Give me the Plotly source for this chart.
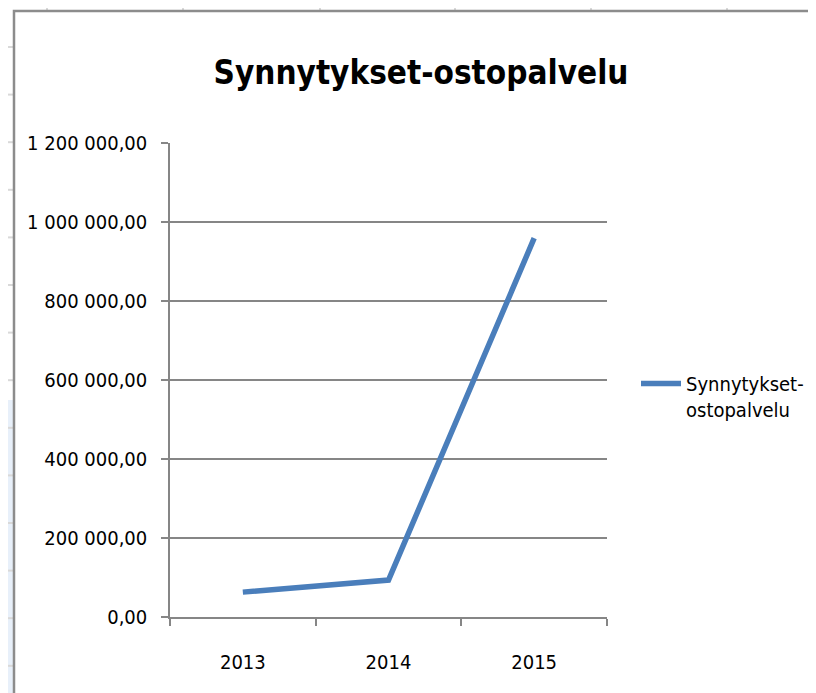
import plotly.graph_objects as go

years = ["2013", "2014", "2015"]
values = [63000, 93500, 959000]
series_name = "Synnytykset-ostopalvelu"
y_ticks = [0, 200000, 400000, 600000, 800000, 1000000, 1200000]

OFF = 8  # page body margin
W, H = 816 - OFF, 693 - OFF
L, R, T, B = 170, 607, 143, 617  # page pixel coords of plot area

def px(x):
    return (x - L) / (R - L)

def py(y):
    return (B - y) / (B - T)

FONT = "DejaVu Sans Condensed"

fig = go.Figure()
fig.add_trace(go.Scatter(
    x=years, y=values, mode="lines",
    name="Synnytykset-<br>ostopalvelu",
    line=dict(color="#4a7ebb", width=5.5),
))

shapes = []
shapes.append(dict(type="rect", xref="paper", yref="paper", x0=px(0), x1=px(13), y0=py(700), y1=py(400),
                   fillcolor="#e8f0fa", line=dict(width=0), layer="below"))
for gx in [47, 183, 320, 455, 591, 727]:
    shapes.append(dict(type="line", xref="paper", yref="paper", x0=px(gx), x1=px(gx), y0=py(0), y1=py(11),
                       line=dict(color="#d9d9d9", width=2), layer="below"))
k = 0
while 47 + 47.6 * k < 693:
    gy = 47 + 47.6 * k
    shapes.append(dict(type="line", xref="paper", yref="paper", x0=px(0), x1=px(13), y0=py(gy), y1=py(gy),
                       line=dict(color="#d9d9d9", width=2), layer="below"))
    k += 1
shapes.append(dict(type="rect", xref="paper", yref="paper", x0=px(14), x1=px(830), y0=py(710), y1=py(11),
                   fillcolor="white", line=dict(color="#8c8c8c", width=2.5), layer="below"))

fig.update_layout(
    width=W, height=H,
    margin=dict(l=L - OFF, r=816 - R, t=T - OFF, b=693 - B, autoexpand=False),
    paper_bgcolor="white", plot_bgcolor="rgba(0,0,0,0)",
    separators=", ",
    font=dict(family=FONT, size=20, color="black"),
    title=dict(text="<b>Synnytykset-ostopalvelu</b>", x=(421 - OFF) / W, xanchor="center",
               y=1 - (72 - OFF) / H, yanchor="middle", font=dict(family=FONT, size=33, color="black")),
    shapes=shapes,
    showlegend=True,
    legend=dict(x=px(636), xanchor="left", y=py(364), yanchor="top", valign="top",
                font=dict(family=FONT, size=20), bgcolor="rgba(0,0,0,0)", itemwidth=40),
    xaxis=dict(type="category", tickson="boundaries", ticks="outside", ticklen=7, tickcolor="#868686",
               tickwidth=1.5, showline=True, linecolor="#868686", linewidth=1.5, showgrid=False,
               ticklabelstandoff=26, range=[-0.5, 2.5]),
    yaxis=dict(range=[0, 1200000], tickvals=y_ticks, tickformat=",.2f", ticks="outside", ticklen=7,
               tickcolor="#868686", tickwidth=1.5, showline=True, linecolor="#868686", linewidth=1.5,
               showgrid=True, gridcolor="#868686", gridwidth=1.5, zeroline=False, ticklabelstandoff=10),
)

fig.write_html("out.html")
